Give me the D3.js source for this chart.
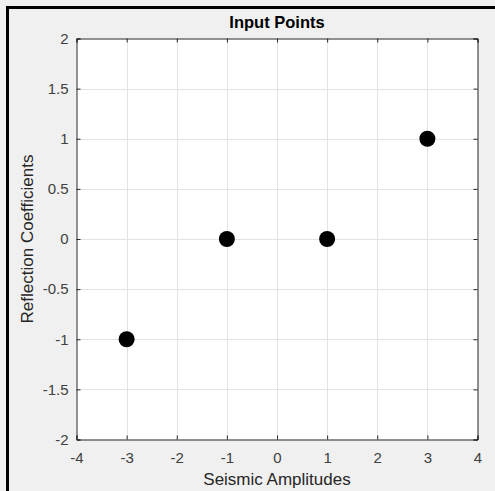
<!DOCTYPE html>
<html>
<head>
<meta charset="utf-8">
<script src="https://cdn.jsdelivr.net/npm/d3@7"></script>
<style>
  html, body { margin: 0; padding: 0; background: #f0f0f0; }
  svg { display: block; font-family: "Liberation Sans", Arial, sans-serif; }
</style>
</head>
<body>
<svg id="chart" width="495" height="491"></svg>
<script>
const xValues = [-3, -1, 1, 3];
const yValues = [-1, 0, 0, 1];
const xTicks = [-4, -3, -2, -1, 0, 1, 2, 3, 4];
const yTicks = [-2, -1.5, -1, -0.5, 0, 0.5, 1, 1.5, 2];

const svg = d3.select("#chart");
const width = +svg.attr("width");
const height = +svg.attr("height");

// frame of the window
svg.append("rect")
  .attr("x", 7.5).attr("y", 7.5)
  .attr("width", width + 20).attr("height", height + 20)
  .attr("fill", "#f0f0f0")
  .attr("stroke", "#000")
  .attr("stroke-width", 3);

const pLeft = 76.5, pRight = 477.5, pTop = 38.5, pBottom = 439.5;

const x = d3.scaleLinear().domain([-4, 4]).range([pLeft, pRight]);
const y = d3.scaleLinear().domain([-2, 2]).range([pBottom, pTop]);

svg.append("rect")
  .attr("x", pLeft).attr("y", pTop)
  .attr("width", pRight - pLeft).attr("height", pBottom - pTop)
  .attr("fill", "#fff");

// grid
svg.append("g")
  .selectAll("line")
  .data(xTicks.slice(1, -1))
  .join("line")
  .attr("x1", d => Math.round(x(d)) + 0.5).attr("x2", d => Math.round(x(d)) + 0.5)
  .attr("y1", pTop).attr("y2", pBottom)
  .attr("stroke", "#e3e3e3");

svg.append("g")
  .selectAll("line")
  .data(yTicks.slice(1, -1))
  .join("line")
  .attr("y1", d => Math.round(y(d)) + 0.5).attr("y2", d => Math.round(y(d)) + 0.5)
  .attr("x1", pLeft).attr("x2", pRight)
  .attr("stroke", "#e3e3e3");

// axes
const tickFmt = d => String(d);

const gx = svg.append("g")
  .attr("transform", `translate(0,${pBottom})`)
  .call(d3.axisBottom(x).tickValues(xTicks).tickSize(-4).tickPadding(13).tickFormat(tickFmt));
const gxTop = svg.append("g")
  .attr("transform", `translate(0,${pTop})`)
  .call(d3.axisTop(x).tickValues(xTicks).tickSize(-4).tickFormat(""));
const gy = svg.append("g")
  .attr("transform", `translate(${pLeft},0)`)
  .call(d3.axisLeft(y).tickValues(yTicks).tickSize(-4).tickPadding(8).tickFormat(tickFmt));
const gyRight = svg.append("g")
  .attr("transform", `translate(${pRight},0)`)
  .call(d3.axisRight(y).tickValues(yTicks).tickSize(-4).tickFormat(""));

[gx, gxTop, gy, gyRight].forEach(g => {
  g.select(".domain").attr("stroke", "#262626");
  g.selectAll(".tick line").attr("stroke", "#262626");
  g.selectAll(".tick text")
    .attr("fill", "#404040")
    .style("font-size", "15px")
    .style("font-family", "'Liberation Sans', Arial, sans-serif");
});

// points
svg.append("g")
  .selectAll("circle")
  .data(xValues.map((v, i) => ({ x: v, y: yValues[i] })))
  .join("circle")
  .attr("cx", d => x(d.x))
  .attr("cy", d => y(d.y))
  .attr("r", 8)
  .attr("fill", "#000");

// texts
svg.append("text")
  .attr("x", (pLeft + pRight) / 2).attr("y", 28)
  .attr("text-anchor", "middle")
  .attr("font-weight", "bold")
  .attr("font-size", "16.5px")
  .attr("fill", "#000")
  .text("Input Points");

svg.append("text")
  .attr("x", (pLeft + pRight) / 2).attr("y", 485)
  .attr("text-anchor", "middle")
  .attr("font-size", "17px")
  .attr("fill", "#262626")
  .text("Seismic Amplitudes");

svg.append("text")
  .attr("transform", `translate(33,${(pTop + pBottom) / 2}) rotate(-90)`)
  .attr("text-anchor", "middle")
  .attr("font-size", "17px")
  .attr("fill", "#262626")
  .text("Reflection Coefficients");
</script>
</body>
</html>
